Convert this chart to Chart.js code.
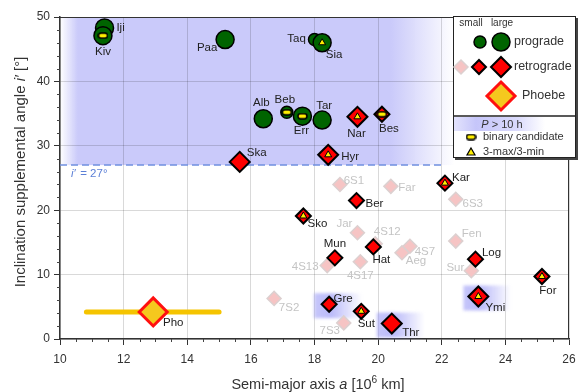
<!DOCTYPE html>
<html>
<head>
<meta charset="utf-8">
<script src="https://cdn.jsdelivr.net/npm/chart.js@4/dist/chart.umd.min.js"></script>
<style>
  html, body { margin: 0; padding: 0; background: #fff; }
  #wrap { width: 586px; height: 392px; }
</style>
</head>
<body>
<div id="wrap"><canvas id="c" width="586" height="392"></canvas></div>
<script>
// semi-major axis a [10^6 km] and inclination supplemental angle i' [deg]
const proLargeNames = ['Iji', 'Kiv', 'Paa', 'Sia', 'Alb', 'Err', 'Tar'];
const proLargeA = [11.40, 11.35, 15.19, 18.24, 16.39, 17.62, 18.24];
const proLargeI = [48.3, 47.1, 46.5, 46.0, 34.2, 34.6, 34.0];

const proSmallNames = ['Taq', 'Beb'];
const proSmallA = [18.00, 17.13];
const proSmallI = [46.5, 35.2];

const retLargeNames = ['Ska', 'Nar', 'Hyr', 'Thr', 'Ymi'];
const retLargeA = [15.65, 19.35, 18.43, 20.43, 23.15];
const retLargeI = [27.5, 34.5, 28.6, 2.4, 6.6];

const retSmallNames = ['Bes', 'Ber', 'Sko', 'Mun', 'Hat', 'Gre', 'Sut', 'Kar', 'Log', 'For'];
const retSmallA = [20.12, 19.32, 17.65, 18.64, 19.85, 18.46, 19.47, 22.10, 23.06, 25.15];
const retSmallI = [34.9, 21.5, 19.1, 12.6, 14.3, 5.4, 4.3, 24.2, 12.4, 9.7];

const faintNames = ['6S1', 'Far', 'Jar', '4S12', '4S7', 'Aeg', '4S13', '4S17', '7S2', '7S3', '6S3', 'Fen', 'Sur'];
const faintA = [18.80, 20.40, 19.35, 19.91, 21.00, 20.75, 18.40, 19.44, 16.73, 18.92, 22.44, 22.44, 22.93];
const faintI = [24.0, 23.7, 16.5, 14.8, 14.4, 13.4, 11.4, 12.0, 6.3, 2.5, 21.7, 15.2, 10.6];

const phoebeA = 12.93;
const phoebeI = 4.2;
const phoebeRange = [10.83, 15.0];

const binaryNames = ['Kiv', 'Beb', 'Err', 'Bes'];
const threeMaxNames = ['Sia', 'Nar', 'Hyr', 'Sko', 'Kar', 'Sut', 'Ymi', 'For'];
const slowNames = ['Gre', 'Thr', 'Ymi'];

const iCut = 27;
const zoneA = [10, 22.4];
const zoneI = [27, 50];

const xTicks = [10, 12, 14, 16, 18, 20, 22, 24, 26];
const yTicks = [0, 10, 20, 30, 40, 50];

// label offsets in px from the marker centre
const labelOffsets = {
  Iji: [16, 0], Kiv: [0, 16], Paa: [-18, 8], Taq: [-18, -1], Sia: [12, 12],
  Alb: [-2, -16], Beb: [-2, -12], Err: [-1, 15], Tar: [2, -14],
  Nar: [-1, 17], Bes: [7, 15], Ska: [17, -9], Hyr: [22, 2],
  '6S1': [14, -4], Far: [16, 1], Ber: [18, 3], Kar: [16, -5], '6S3': [17, 5],
  Sko: [14, 8], Jar: [-13, -9], '4S12': [12, -12], Mun: [0, -14], Hat: [8, 13],
  '4S7': [15, 6], Aeg: [14, 8], '4S13': [-22, 1], '4S17': [0, 14],
  Fen: [16, -7], Log: [16, -6], Sur: [-16, -3], For: [6, 14], Ymi: [17, 11],
  '7S2': [15, 9], Gre: [14, -5], Sut: [5, 13], '7S3': [-14, 8], Thr: [19, 9],
  Pho: [20, 11]
};

const FONT = 'Arial, "Liberation Sans", sans-serif';

const allA = {}, allI = {};
function register(names, as, is) {
  names.forEach((n, k) => { allA[n] = as[k]; allI[n] = is[k]; });
}
register(proLargeNames, proLargeA, proLargeI);
register(proSmallNames, proSmallA, proSmallI);
register(retLargeNames, retLargeA, retLargeI);
register(retSmallNames, retSmallA, retSmallI);
register(faintNames, faintA, faintI);
register(['Pho'], [phoebeA], [phoebeI]);

const pts = (names) => names.map(n => ({ x: allA[n], y: allI[n] }));

// yellow pill used for binary candidates
function makePill(w, h) {
  const c = document.createElement('canvas');
  c.width = w; c.height = h;
  const g = c.getContext('2d');
  g.fillStyle = '#ffee00';
  g.strokeStyle = '#000';
  g.lineWidth = 1.5;
  g.beginPath();
  g.roundRect(1, 1, w - 2, h - 2, (h - 2) / 2);
  g.fill();
  g.stroke();
  return c;
}
const pill = makePill(11, 7);

function diamond(ctx, x, y, r, fill, stroke, lw) {
  ctx.beginPath();
  ctx.moveTo(x, y - r); ctx.lineTo(x + r, y); ctx.lineTo(x, y + r); ctx.lineTo(x - r, y);
  ctx.closePath();
  ctx.fillStyle = fill; ctx.fill();
  ctx.lineWidth = lw; ctx.strokeStyle = stroke; ctx.lineJoin = 'miter'; ctx.stroke();
}
function circle(ctx, x, y, r, fill, stroke, lw) {
  ctx.beginPath();
  ctx.arc(x, y, r, 0, Math.PI * 2);
  ctx.fillStyle = fill; ctx.fill();
  ctx.lineWidth = lw; ctx.strokeStyle = stroke; ctx.stroke();
}
function triangle(ctx, x, y, r) {
  ctx.beginPath();
  ctx.moveTo(x, y - r); ctx.lineTo(x + r, y + r * 0.75); ctx.lineTo(x - r, y + r * 0.75);
  ctx.closePath();
  ctx.fillStyle = '#ffee00'; ctx.fill();
  ctx.lineWidth = 1.2; ctx.strokeStyle = '#000'; ctx.stroke();
}

// draws pieces of text, some italic / superscript, centred at x
function mixedText(ctx, parts, x, y, size) {
  const fontFor = p => (p.it ? 'italic ' : '') + (p.sup ? size * 0.7 : size) + 'px ' + FONT;
  let w = 0;
  parts.forEach(p => { ctx.font = fontFor(p); w += ctx.measureText(p.t).width; });
  let cx = x - w / 2;
  ctx.textAlign = 'left';
  parts.forEach(p => {
    ctx.font = fontFor(p);
    ctx.fillText(p.t, cx, p.sup ? y - size * 0.4 : y);
    cx += ctx.measureText(p.t).width;
  });
}

const decor = {
  id: 'decor',
  beforeDraw(chart) {
    const { ctx, scales: { x, y } } = chart;
    const x0 = x.getPixelForValue(zoneA[0]), x1 = x.getPixelForValue(zoneA[1]);
    const y0 = y.getPixelForValue(zoneI[1]), y1 = y.getPixelForValue(zoneI[0]);
    const g = ctx.createLinearGradient(x0, 0, x1, 0);
    g.addColorStop(0, 'rgba(202,202,250,0)');
    g.addColorStop(0.045, 'rgba(202,202,250,1)');
    g.addColorStop(0.84, 'rgba(202,202,250,1)');
    g.addColorStop(1, 'rgba(202,202,250,0)');
    ctx.save();
    ctx.fillStyle = g;
    ctx.fillRect(x0, y0, x1 - x0, y1 - y0);
    ctx.restore();
  },
  beforeDatasetsDraw(chart) {
    const { ctx, scales: { x, y } } = chart;
    // glow boxes for slow rotators
    ctx.save();
    ctx.filter = 'blur(1.5px)';
    slowNames.forEach(n => {
      const px = x.getPixelForValue(allA[n]), py = y.getPixelForValue(allI[n]);
      const l = px - 15, r = px + 33;
      const g = ctx.createLinearGradient(l, 0, r, 0);
      g.addColorStop(0, 'rgba(140,140,245,0.5)');
      g.addColorStop(0.35, 'rgba(140,140,245,0.6)');
      g.addColorStop(1, 'rgba(140,140,245,0)');
      ctx.fillStyle = g;
      ctx.fillRect(l, py - 11, r - l, 25);
    });
    ctx.restore();

    // i' = 27 deg dashed line
    const ca = chart.chartArea;
    const yc = y.getPixelForValue(iCut);
    ctx.save();
    ctx.strokeStyle = '#7090e0';
    ctx.lineWidth = 1.5;
    ctx.setLineDash([7, 4]);
    ctx.beginPath();
    ctx.moveTo(ca.left, yc);
    ctx.lineTo(x.getPixelForValue(22.1), yc);
    ctx.stroke();
    ctx.setLineDash([]);
    ctx.fillStyle = '#5b7fd6';
    ctx.textBaseline = 'middle';
    ctx.font = 'italic 11.5px ' + FONT;
    ctx.textAlign = 'left';
    ctx.fillText('i′', ca.left + 11, yc + 9);
    ctx.font = '11.5px ' + FONT;
    ctx.fillText(' = ' + iCut + '°', ca.left + 17, yc + 9);
    ctx.restore();
  },
  afterDatasetsDraw(chart) {
    const { ctx, scales: { x, y } } = chart;
    ctx.save();
    ctx.textAlign = 'center';
    ctx.textBaseline = 'middle';
    ctx.font = '11.5px ' + FONT;
    Object.keys(labelOffsets).forEach(n => {
      const px = x.getPixelForValue(allA[n]), py = y.getPixelForValue(allI[n]);
      const [dx, dy] = labelOffsets[n];
      ctx.fillStyle = faintNames.includes(n) ? '#c4c4c4' : '#222';
      ctx.fillText(n, px + dx, py + dy);
    });
    ctx.restore();
  },
  afterDraw(chart) {
    const { ctx, chartArea: ca, scales: { x, y } } = chart;
    ctx.save();
    // frame top/right
    ctx.strokeStyle = '#333';
    ctx.lineWidth = 1;
    ctx.beginPath();
    ctx.moveTo(ca.left, ca.top + 0.5); ctx.lineTo(ca.right - 0.5, ca.top + 0.5); ctx.lineTo(ca.right - 0.5, ca.bottom);
    ctx.stroke();
    // minor ticks
    ctx.strokeStyle = '#444';
    ctx.beginPath();
    for (let v = 10.5; v < 26; v += 0.5) {
      if (v % 2 === 0) continue;
      const px = Math.round(x.getPixelForValue(v)) + 0.5;
      ctx.moveTo(px, ca.bottom); ctx.lineTo(px, ca.bottom + 3);
    }
    for (let v = 2; v < 50; v += 2) {
      if (v % 10 === 0) continue;
      const py = Math.round(y.getPixelForValue(v)) + 0.5;
      ctx.moveTo(ca.left - 3, py); ctx.lineTo(ca.left, py);
    }
    ctx.stroke();

    // axis titles
    ctx.fillStyle = '#333';
    ctx.textBaseline = 'alphabetic';
    mixedText(ctx, [{ t: 'Semi-major axis ' }, { t: 'a', it: true }, { t: ' [10' }, { t: '6', sup: true }, { t: ' km]' }], 318, 389, 14.5);
    ctx.save();
    ctx.translate(25, 172);
    ctx.rotate(-Math.PI / 2);
    mixedText(ctx, [{ t: 'Inclination supplemental angle ' }, { t: 'i′', it: true }, { t: ' [°]' }], 0, 0, 15);
    ctx.restore();

    drawLegend(ctx);
    ctx.restore();
  }
};

function drawLegend(ctx) {
  const L = 453, T = 16, R = 576, B = 158, D = 116;
  ctx.fillStyle = '#444';
  ctx.fillRect(L + 2, T + 2, R - L, B - T);
  ctx.fillStyle = '#fff';
  ctx.fillRect(L, T, R - L, B - T);
  ctx.strokeStyle = '#222';
  ctx.lineWidth = 1;
  ctx.strokeRect(L + 0.5, T + 0.5, R - L - 1, B - T - 1);

  // P > 10 h band
  const g = ctx.createLinearGradient(L, 0, 545, 0);
  g.addColorStop(0, 'rgba(150,150,245,0.25)');
  g.addColorStop(0.25, 'rgba(150,150,245,0.55)');
  g.addColorStop(0.7, 'rgba(150,150,245,0.35)');
  g.addColorStop(1, 'rgba(150,150,245,0)');
  ctx.fillStyle = g;
  ctx.fillRect(L + 1, D + 1, 545 - L, 14);

  ctx.strokeStyle = '#222';
  ctx.lineWidth = 1.5;
  ctx.beginPath(); ctx.moveTo(L, D); ctx.lineTo(R, D); ctx.stroke();

  ctx.fillStyle = '#333';
  ctx.textBaseline = 'middle';
  ctx.textAlign = 'center';
  ctx.font = '10px ' + FONT;
  ctx.fillText('small', 471, 23);
  ctx.fillText('large', 502, 23);

  circle(ctx, 480, 42, 6, '#006400', '#000', 1.5);
  circle(ctx, 501, 42, 9, '#006400', '#000', 1.5);
  diamond(ctx, 461, 67, 7, '#f6c4c4', '#dcd0d0', 1.5);
  diamond(ctx, 479, 67, 7, '#ff0000', '#000', 2);
  diamond(ctx, 501, 67, 10, '#ff0000', '#000', 2);
  diamond(ctx, 501, 96, 14, '#f5c81e', '#ff1010', 3);

  ctx.fillStyle = '#333';
  ctx.textAlign = 'left';
  ctx.font = '12.5px ' + FONT;
  ctx.fillText('prograde', 514, 42);
  ctx.fillText('retrograde', 514, 67);
  ctx.fillText('Phoebe', 522, 96);

  ctx.textBaseline = 'alphabetic';
  mixedText(ctx, [{ t: 'P', it: true }, { t: ' > 10 h' }], 502, 128, 11);
  ctx.textBaseline = 'middle';
  ctx.drawImage(pill, 471 - 5.5, 137 - 3.5);
  triangle(ctx, 471, 152, 4);
  ctx.fillStyle = '#333';
  ctx.textAlign = 'left';
  ctx.font = '11px ' + FONT;
  ctx.fillText('binary candidate', 483, 137);
  ctx.fillText('3-max/3-min', 483, 152);
}

const datasets = [
  { label: '3-max/3-min', data: pts(threeMaxNames), pointStyle: 'triangle', pointRadius: 4,
    backgroundColor: '#ffee00', borderColor: '#000', borderWidth: 1, order: 1 },
  { label: 'binary candidate', data: pts(binaryNames), pointStyle: pill, order: 2 },
  { label: 'prograde large', data: pts(proLargeNames), pointStyle: 'circle', pointRadius: 9,
    backgroundColor: '#006400', borderColor: '#000', borderWidth: 1.5, order: 4 },
  { label: 'prograde small', data: pts(proSmallNames), pointStyle: 'circle', pointRadius: 6,
    backgroundColor: '#006400', borderColor: '#000', borderWidth: 1.5, order: 5 },
  { label: 'retrograde large', data: pts(retLargeNames), pointStyle: 'rectRot', pointRadius: 10,
    backgroundColor: '#ff0000', borderColor: '#000', borderWidth: 2, order: 6 },
  { label: 'retrograde small', data: pts(retSmallNames), pointStyle: 'rectRot', pointRadius: 7.5,
    backgroundColor: '#ff0000', borderColor: '#000', borderWidth: 2, order: 7 },
  { label: 'Phoebe', data: pts(['Pho']), pointStyle: 'rectRot', pointRadius: 14,
    backgroundColor: '#f5c81e', borderColor: '#ff1010', borderWidth: 3, order: 8 },
  { label: 'other', data: pts(faintNames), pointStyle: 'rectRot', pointRadius: 7,
    backgroundColor: '#f6c4c4', borderColor: '#dcd0d0', borderWidth: 1.5, order: 9 },
  { label: 'Phoebe range', data: phoebeRange.map(a => ({ x: a, y: phoebeI })), showLine: true,
    borderColor: '#f5c400', borderWidth: 5, borderCapStyle: 'round', pointRadius: 0, order: 10 }
];

new Chart(document.getElementById('c'), {
  type: 'scatter',
  data: { datasets },
  options: {
    responsive: false,
    animation: false,
    devicePixelRatio: 1,
    events: [],
    layout: { padding: { top: 14, right: 8, left: 0, bottom: 0 } },
    plugins: { legend: { display: false }, tooltip: { enabled: false } },
    scales: {
      x: {
        type: 'linear', min: 10, max: 26,
        afterBuildTicks: s => { s.ticks = xTicks.map(v => ({ value: v })); },
        afterFit: s => { s.height = 53; },
        ticks: { color: '#333', font: { size: 12, family: FONT }, padding: 7, maxRotation: 0 },
        grid: { color: 'rgba(0,0,0,0.15)', tickColor: '#333', tickLength: 6 },
        border: { color: '#333', width: 1.5 }
      },
      y: {
        type: 'linear', min: 0, max: 50,
        afterBuildTicks: s => { s.ticks = yTicks.map(v => ({ value: v })); },
        afterFit: s => { s.width = 60; },
        ticks: { color: '#333', font: { size: 12, family: FONT }, padding: 4 },
        grid: { color: 'rgba(0,0,0,0.15)', tickColor: '#333', tickLength: 6 },
        border: { color: '#333', width: 1.5 }
      }
    }
  },
  plugins: [decor]
});
</script>
</body>
</html>
